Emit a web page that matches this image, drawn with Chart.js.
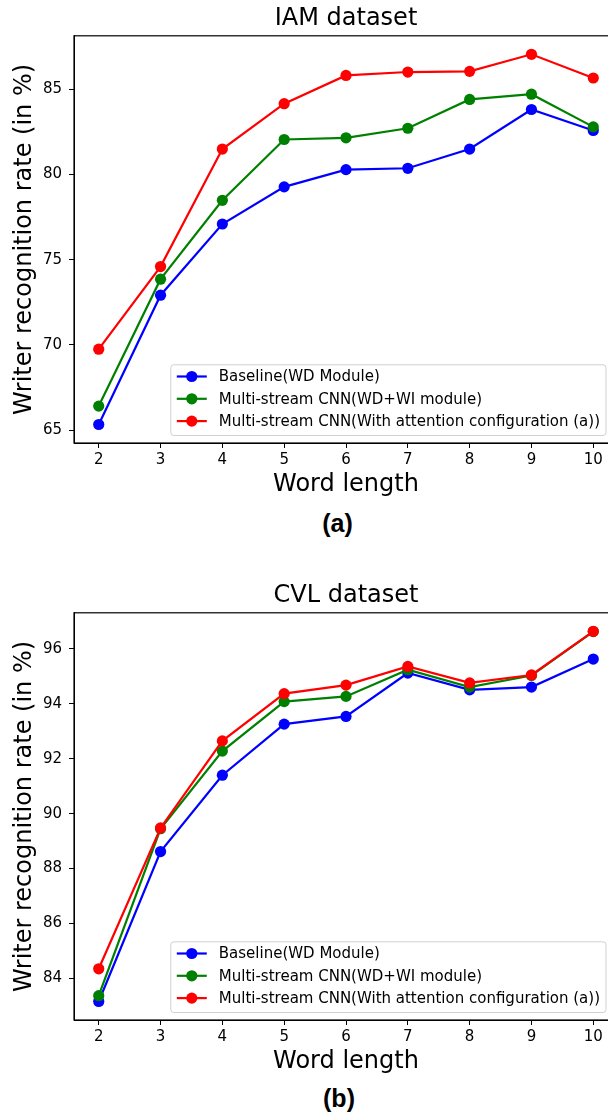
<!DOCTYPE html>
<html>
<head>
<meta charset="utf-8">
<script src="https://cdn.jsdelivr.net/npm/chart.js@4/dist/chart.umd.min.js"></script>
<style>
    body { margin: 0; width: 608px; height: 1115px; overflow: hidden; background: #fff; position: relative; }
    .plot { position: absolute; left: 0; width: 640px; height: 499px; }
    .cap { position: absolute; font: bold 25px "Liberation Sans", Arial, sans-serif; color: #000; transform: translate(-50%, -50%); white-space: nowrap; }
</style>
</head>
<body>
<div class="plot" style="top:0"><canvas id="iamChart"></canvas></div>
<div class="cap" style="left:337.5px; top:523px">(a)</div>
<div class="plot" style="top:577px"><canvas id="cvlChart"></canvas></div>
<div class="cap" style="left:339px; top:1098px">(b)</div>
<script>
const wordLengths = [2, 3, 4, 5, 6, 7, 8, 9, 10];
const seriesLabels = [
    'Baseline(WD Module)',
    'Multi-stream CNN(WD+WI module)',
    'Multi-stream CNN(With attention configuration (a))'
];
const seriesColors = ['#0000ff', '#008000', '#ff0000'];

// IAM
const iamBaseline  = [65.33, 72.92, 77.10, 79.28, 80.29, 80.37, 81.50, 83.82, 82.59];
const iamWdWi      = [66.41, 73.86, 78.49, 82.06, 82.16, 82.72, 84.41, 84.72, 82.80];
const iamAttention = [69.75, 74.60, 81.50, 84.16, 85.82, 86.02, 86.06, 87.06, 85.67];
const iamTicks = [65, 70, 75, 80, 85];

// CVL
const cvlBaseline  = [83.16, 88.62, 91.40, 93.26, 93.54, 95.12, 94.51, 94.61, 95.63];
const cvlWdWi      = [83.37, 89.45, 92.28, 94.08, 94.27, 95.24, 94.61, 95.03, 96.63];
const cvlAttention = [84.35, 89.48, 92.65, 94.37, 94.68, 95.36, 94.76, 95.05, 96.64];
const cvlTicks = [84, 86, 88, 90, 92, 94, 96];

const FONT = '"DejaVu Sans", sans-serif';

// cadre noir autour de la zone de tracé + titre centré sur la zone
const framePlugin = {
    id: 'frame',
    afterLayout(chart) {
        if (chart.titleBlock) {
            chart.titleBlock.left = chart.chartArea.left;
            chart.titleBlock.right = chart.chartArea.right;
        }
    },
    afterDraw(chart) {
        const { ctx, chartArea: a } = chart;
        ctx.save();
        ctx.strokeStyle = '#000';
        ctx.lineWidth = 1.2;
        ctx.strokeRect(a.left, a.top, a.right - a.left, a.bottom - a.top);
        ctx.restore();
    }
};

// légende en bas à droite, style matplotlib
const boxLegend = {
    id: 'boxLegend',
    afterDraw(chart) {
        const { ctx, chartArea: a } = chart;
        const sets = chart.data.datasets;
        ctx.save();
        ctx.font = '15px ' + FONT;
        let textW = 0;
        sets.forEach(d => { textW = Math.max(textW, ctx.measureText(d.label).width); });
        const pad = 6, handle = 30, gap = 12, rowH = 22.3;
        const w = pad + handle + gap + textW + pad;
        const h = 70.7;
        const right = a.right - 12;
        const bottom = a.bottom - 7.5;
        const left = right - w, top = bottom - h;

        ctx.beginPath();
        ctx.roundRect(left, top, w, h, 3);
        ctx.fillStyle = 'rgba(255,255,255,0.85)';
        ctx.fill();
        ctx.strokeStyle = '#d0d0d0';
        ctx.lineWidth = 1;
        ctx.stroke();

        sets.forEach((d, i) => {
            const y = top + 11.7 + i * rowH;
            ctx.strokeStyle = d.borderColor;
            ctx.lineWidth = 2.2;
            ctx.beginPath();
            ctx.moveTo(left + pad, y);
            ctx.lineTo(left + pad + handle, y);
            ctx.stroke();
            ctx.fillStyle = d.borderColor;
            ctx.beginPath();
            ctx.arc(left + pad + handle / 2, y, 5.6, 0, Math.PI * 2);
            ctx.fill();
            ctx.fillStyle = '#000';
            ctx.textBaseline = 'middle';
            ctx.fillText(d.label, left + pad + handle + gap, y + 1);
        });
        ctx.restore();
    }
};

function withMargin(values) {
    const lo = Math.min(...values), hi = Math.max(...values);
    const m = (hi - lo) * 0.05;
    return [lo - m, hi + m];
}

function makeChart(id, title, series, yTicks) {
    const [xMin, xMax] = withMargin(wordLengths);
    const [yMin, yMax] = withMargin(series.flat());
    const ctx = document.getElementById(id).getContext('2d');
    return new Chart(ctx, {
        type: 'line',
        data: {
            datasets: series.map((vals, i) => ({
                label: seriesLabels[i],
                data: vals.map((v, j) => ({ x: wordLengths[j], y: v })),
                borderColor: seriesColors[i],
                backgroundColor: seriesColors[i],
                pointBackgroundColor: seriesColors[i],
                pointBorderWidth: 0,
                pointRadius: 5.6,
                borderWidth: 2.2,
                tension: 0,
                clip: false,
                order: -i   // la dernière série passe au-dessus, comme matplotlib
            }))
        },
        options: {
            responsive: true,
            maintainAspectRatio: false,
            animation: false,
            layout: { padding: { left: 0, right: 22, top: 0, bottom: 0 } },
            plugins: {
                legend: { display: false },
                tooltip: { enabled: false },
                title: {
                    display: true,
                    text: title,
                    color: '#000',
                    font: { family: FONT, size: 24, weight: 'normal' },
                    padding: { top: 4, bottom: 3 }
                }
            },
            scales: {
                x: {
                    type: 'linear',
                    min: xMin,
                    max: xMax,
                    afterBuildTicks: s => { s.ticks = wordLengths.map(v => ({ value: v })); },
                    afterFit: s => { s.height = 56; },
                    grid: { drawOnChartArea: false, tickLength: 5, color: '#000', tickWidth: 1 },
                    border: { color: '#000', width: 1 },
                    ticks: { color: '#000', font: { family: FONT, size: 15 }, padding: 3, maxRotation: 0, autoSkip: false },
                    title: { display: true, text: 'Word length', color: '#000', font: { family: FONT, size: 24 }, padding: { top: 0, bottom: 0 } }
                },
                y: {
                    min: yMin,
                    max: yMax,
                    afterBuildTicks: s => { s.ticks = yTicks.map(v => ({ value: v })); },
                    afterFit: s => { s.width = 74; },
                    grid: { drawOnChartArea: false, tickLength: 5, color: '#000', tickWidth: 1 },
                    border: { color: '#000', width: 1 },
                    ticks: { color: '#000', font: { family: FONT, size: 15 }, padding: 7 },
                    title: { display: true, text: 'Writer recognition rate (in %)', color: '#000', font: { family: FONT, size: 24 }, padding: { top: 10.5, bottom: 0 } }
                }
            }
        },
        plugins: [framePlugin, boxLegend]
    });
}

makeChart('iamChart', 'IAM dataset', [iamBaseline, iamWdWi, iamAttention], iamTicks);
makeChart('cvlChart', 'CVL dataset', [cvlBaseline, cvlWdWi, cvlAttention], cvlTicks);
</script>
</body>
</html>
